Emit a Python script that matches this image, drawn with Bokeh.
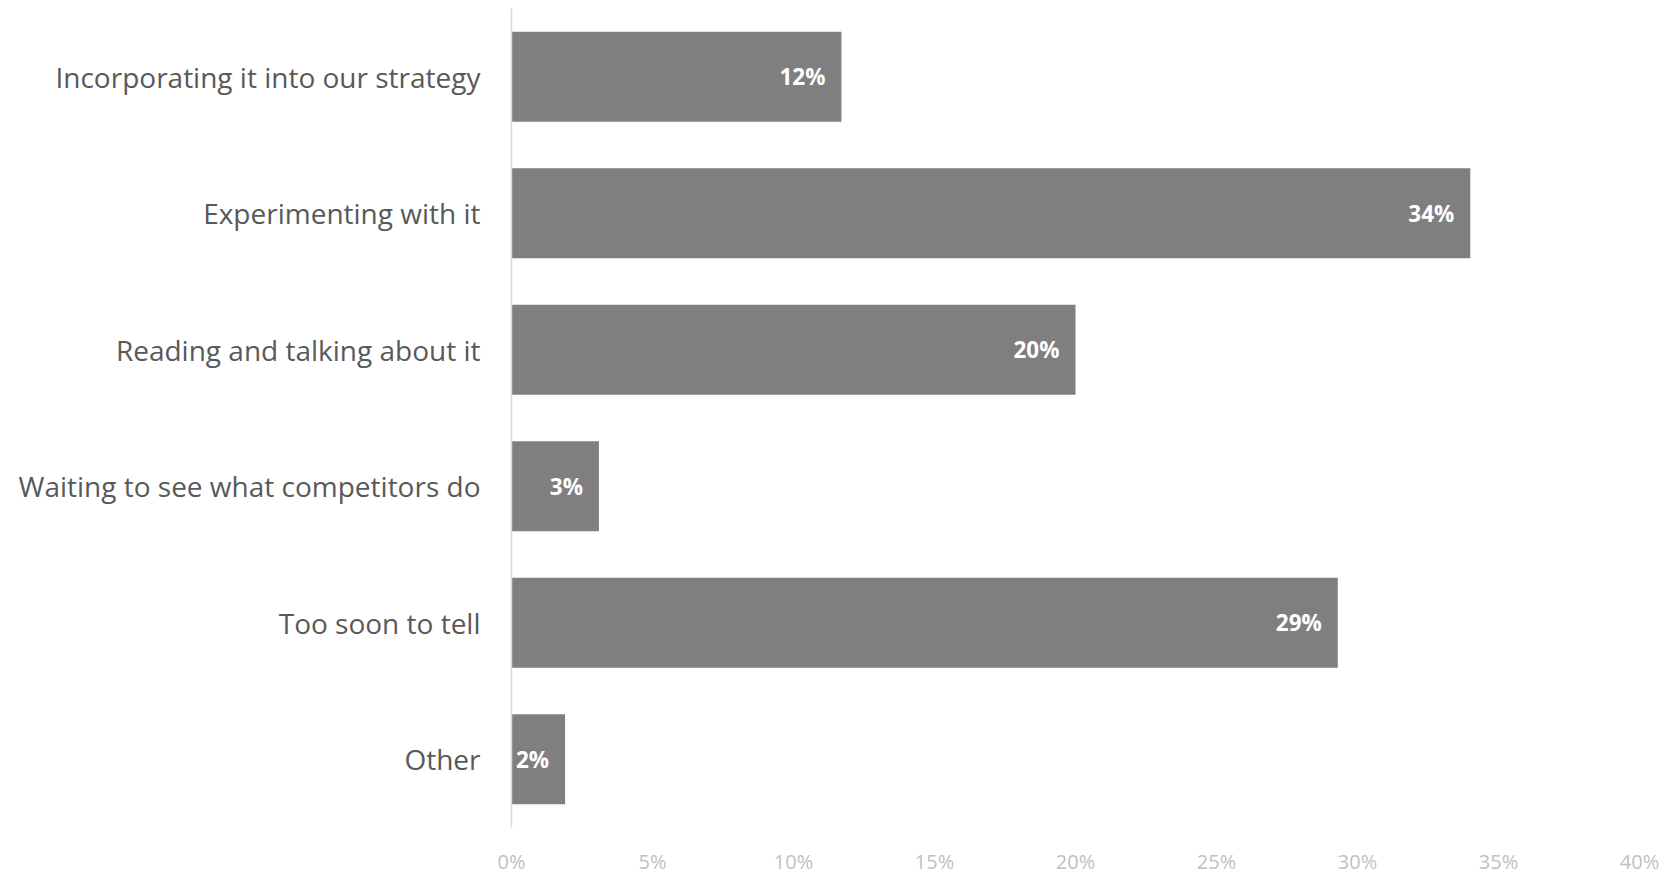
from bokeh.plotting import figure
from bokeh.models import ColumnDataSource, FactorRange, Range1d, PrintfTickFormatter, FixedTicker
from bokeh.core.properties import value
from bokeh.embed import file_html
from bokeh.resources import INLINE

categories = ["Incorporating it into our strategy", "Experimenting with it",
              "Reading and talking about it", "Waiting to see what competitors do",
              "Too soon to tell", "Other"]
values = [11.7, 34.0, 20.0, 3.1, 29.3, 1.9]
labels = ["12%", "34%", "20%", "3%", "29%", "2%"]
x_ticks = [0, 5, 10, 15, 20, 25, 30, 35, 40]

src = ColumnDataSource(dict(cat=categories, val=values, lab=labels))

p = figure(width=1668, height=877, output_backend="svg", toolbar_location=None,
           y_range=FactorRange(*categories[::-1], range_padding=0),
           x_range=Range1d(0, 40),
           min_border_left=511, min_border_right=29, min_border_top=8, min_border_bottom=40)
p.outline_line_color = None
p.background_fill_color = "white"
p.border_fill_color = "white"
p.grid.visible = False

p.hbar(y="cat", right="val", left=0, height=0.66, source=src,
       fill_color="#7F7F7F", line_color=None)
p.text(x="val", y="cat", text="lab", source=src, x_offset=-16,
       text_align="right", text_baseline="middle", text_color="white",
       text_font=value("Open Sans"), text_font_style="bold", text_font_size="22.5px")

p.yaxis.axis_line_color = "#D9D9D9"
p.yaxis.axis_line_width = 1.5
p.yaxis.major_tick_line_color = None
p.yaxis.minor_tick_line_color = None
p.yaxis.major_label_text_font = "Open Sans"
p.yaxis.major_label_text_font_size = "28px"
p.yaxis.major_label_text_color = "#595959"
p.yaxis.major_label_standoff = 25

p.xaxis.ticker = FixedTicker(ticks=x_ticks)
p.xaxis.formatter = PrintfTickFormatter(format="%d%%")
p.xaxis.axis_line_color = None
p.xaxis.major_tick_line_color = None
p.xaxis.minor_tick_line_color = None
p.xaxis.major_label_text_font = "Open Sans"
p.xaxis.major_label_text_font_size = "20px"
p.xaxis.major_label_text_color = "#BFBFBF"
p.xaxis.major_label_standoff = 14

open("out.html", "w").write(file_html(p, INLINE))
